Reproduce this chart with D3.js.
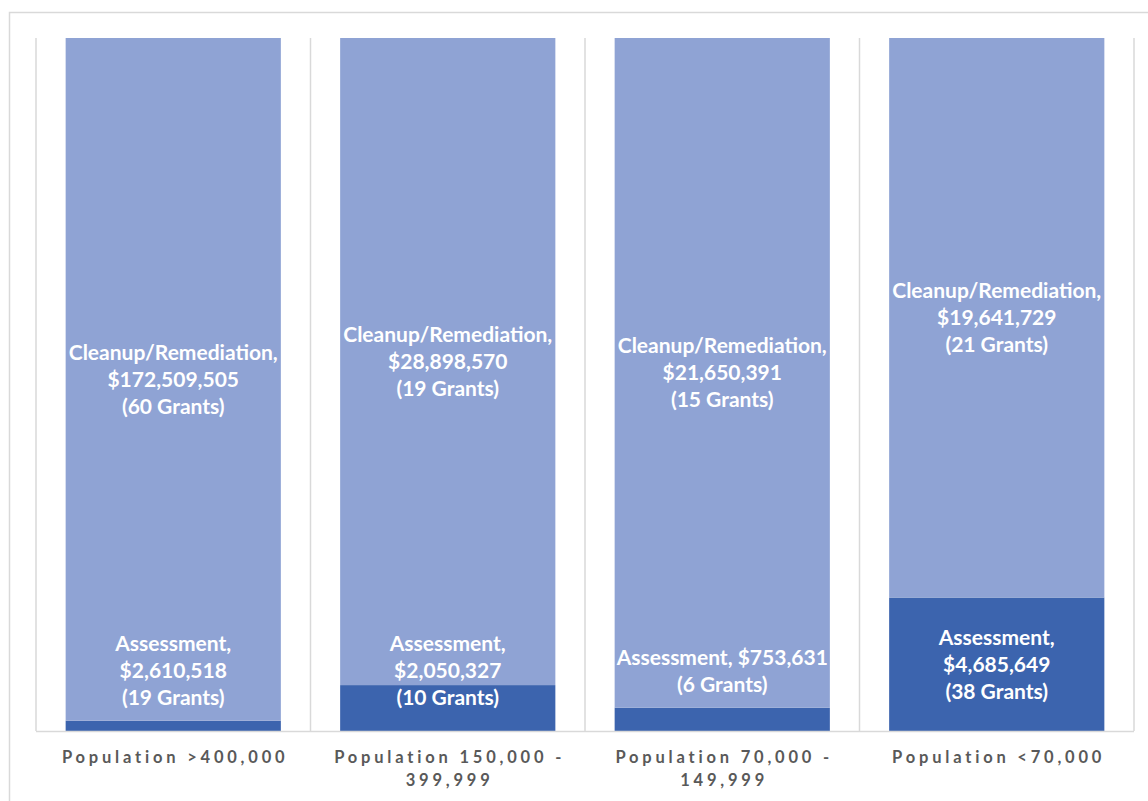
<!DOCTYPE html>
<html>
<head>
<meta charset="utf-8">
<script src="https://cdn.jsdelivr.net/npm/d3@7"></script>
<style>
  html, body { margin: 0; padding: 0; background: #ffffff; }
  svg { display: block; }
</style>
</head>
<body>
<svg id="chart" width="1148" height="801"></svg>
<script>
// Brownfields grants by community population
const categories = ["Population >400,000", "Population 150,000 - 399,999", "Population 70,000 - 149,999", "Population <70,000"];
const assessmentDollars = [2610518, 2050327, 753631, 4685649];
const assessmentGrants = [19, 10, 6, 38];
const cleanupDollars = [172509505, 28898570, 21650391, 19641729];
const cleanupGrants = [60, 19, 15, 21];
const seriesNames = ["Assessment", "Cleanup/Remediation"];

const W = 1148, H = 801;
const plot = { left: 36, right: 1134, top: 38, bottom: 731 };
const colors = { Assessment: "#3c64ae", "Cleanup/Remediation": "#8fa3d4" };
const gridColor = "#d9d9d9";

const svg = d3.select("#chart");

// outer chart frame
svg.append("rect")
  .attr("x", 9.5).attr("y", 12.5)
  .attr("width", W + 20).attr("height", H + 20)
  .attr("fill", "none").attr("stroke", gridColor).attr("stroke-width", 1.5);

const x = d3.scaleBand()
  .domain(categories)
  .range([plot.left, plot.right])
  .paddingInner(0.216)
  .paddingOuter(0.108);

const y = d3.scaleLinear().domain([0, 1]).range([plot.bottom, plot.top]);

// 100% stacked shares
const rows = categories.map((c, i) => {
  const total = assessmentDollars[i] + cleanupDollars[i];
  return {
    category: c,
    Assessment: assessmentDollars[i] / total,
    "Cleanup/Remediation": cleanupDollars[i] / total,
    i
  };
});
const stack = d3.stack().keys(seriesNames)(rows);

// vertical gridlines between categories
const step = x.step();
const boundaries = d3.range(categories.length + 1).map(k => plot.left + k * step);
svg.append("g").selectAll("line")
  .data(boundaries).join("line")
  .attr("x1", d => d).attr("x2", d => d)
  .attr("y1", plot.top).attr("y2", plot.bottom)
  .attr("stroke", gridColor).attr("stroke-width", 1.5);

// bars
svg.append("g").selectAll("g")
  .data(stack).join("g")
  .attr("fill", s => colors[s.key])
  .selectAll("rect")
  .data(s => s).join("rect")
  .attr("x", d => x(d.data.category))
  .attr("width", x.bandwidth())
  .attr("y", d => y(d[1]))
  .attr("height", d => y(d[0]) - y(d[1]));

// category axis line
svg.append("line")
  .attr("x1", plot.left).attr("x2", plot.right)
  .attr("y1", plot.bottom + 0.5).attr("y2", plot.bottom + 0.5)
  .attr("stroke", gridColor).attr("stroke-width", 1.5);

// text measuring helper for word wrapping
const measurer = svg.append("text").attr("visibility", "hidden");
function wrap(words, maxW, style) {
  measurer.attr("font-family", style.family).attr("font-size", style.size)
    .attr("font-weight", style.weight).attr("letter-spacing", style.spacing || 0);
  const lines = [];
  let cur = "";
  words.forEach(w => {
    const test = cur ? cur + " " + w : w;
    measurer.text(test);
    if (cur && measurer.node().getComputedTextLength() > maxW) {
      lines.push(cur);
      cur = w;
    } else cur = test;
  });
  if (cur) lines.push(cur);
  return lines;
}

const fmt = d3.format("$,");
const labelStyle = { family: "Lato, 'Open Sans', sans-serif", size: 21, weight: 700 };
const lineH = 27;

// data labels
stack.forEach(s => {
  s.forEach(d => {
    const i = d.data.i;
    const isA = s.key === "Assessment";
    const dollars = isA ? assessmentDollars[i] : cleanupDollars[i];
    const grants = isA ? assessmentGrants[i] : cleanupGrants[i];
    const head = wrap((s.key + ", " + fmt(dollars)).split(" "), x.bandwidth(), labelStyle);
    const lines = head.concat(["(" + grants + " Grants)"]);
    const segTop = y(d[1]), segBot = y(d[0]);
    let cy = (segTop + segBot) / 2;
    if (isA) cy = Math.min(cy, plot.bottom - 60);
    const cx = x(d.data.category) + x.bandwidth() / 2;
    const t = svg.append("text")
      .attr("text-anchor", "middle")
      .attr("fill", "#ffffff")
      .attr("font-family", labelStyle.family)
      .attr("font-size", labelStyle.size)
      .attr("font-weight", labelStyle.weight);
    lines.forEach((ln, k) => {
      t.append("tspan")
        .attr("x", cx)
        .attr("y", cy + (k - (lines.length - 1) / 2) * lineH)
        .attr("dy", "0.35em")
        .text(ln);
    });
  });
});

// category labels
const axisStyle = { family: "Lato, 'Open Sans', sans-serif", size: 16.5, weight: 700, spacing: 3.8 };
categories.forEach(c => {
  const lines = wrap(c.split(" "), 260, axisStyle);
  const cx = x(c) + x.bandwidth() / 2 + axisStyle.spacing / 2;
  const t = svg.append("text")
    .attr("text-anchor", "middle")
    .attr("fill", "#595959")
    .attr("font-family", axisStyle.family)
    .attr("font-size", axisStyle.size)
    .attr("font-weight", axisStyle.weight)
    .attr("letter-spacing", axisStyle.spacing);
  lines.forEach((ln, k) => {
    t.append("tspan").attr("x", cx).attr("y", 763 + k * 23).text(ln);
  });
});
measurer.remove();
</script>
</body>
</html>
